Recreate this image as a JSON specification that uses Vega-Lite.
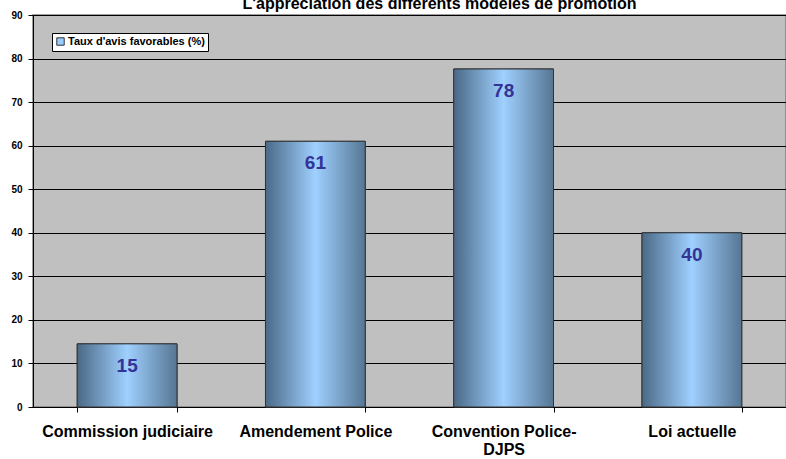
{
  "$schema": "https://vega.github.io/schema/vega-lite/v6.json",
  "autosize": "none",
  "width": 753,
  "height": 392,
  "padding": {"left": 33, "top": 15, "right": 0, "bottom": 52},
  "background": "white",
  "title": {
    "text": "L'appréciation des différents modèles de promotion",
    "font": "Liberation Sans",
    "fontSize": 16,
    "fontWeight": "bold",
    "color": "black",
    "anchor": "middle",
    "baseline": "alphabetic",
    "offset": -15,
    "dx": 30
  },
  "config": {
    "view": {"fill": "#c0c0c0", "stroke": "#808080", "strokeWidth": 1.5},
    "font": "Liberation Sans"
  },
  "data": {
    "values": [
      {"modele": "Commission judiciaire", "taux": 14.5, "label": "15", "serie": "Taux d'avis favorables (%)"},
      {"modele": "Amendement Police", "taux": 61, "label": "61", "serie": "Taux d'avis favorables (%)"},
      {"modele": "Convention Police-DJPS", "taux": 77.6, "label": "78", "serie": "Taux d'avis favorables (%)"},
      {"modele": "Loi actuelle", "taux": 40, "label": "40", "serie": "Taux d'avis favorables (%)"}
    ]
  },
  "encoding": {
    "x": {
      "field": "modele",
      "type": "nominal",
      "sort": null,
      "scale": {"paddingInner": 0.47, "paddingOuter": 0.235},
      "axis": {
        "title": null,
        "labelAngle": 0,
        "labelFont": "Liberation Sans",
        "labelFontSize": 16,
        "labelFontWeight": "bold",
        "labelColor": "black",
        "labelPadding": 11,
        "labelLineHeight": 18,
        "labelExpr": "datum.label == 'Convention Police-DJPS' ? ['Convention Police-', 'DJPS'] : datum.label",
        "tickBand": "extent",
        "tickSize": 5,
        "tickColor": "black",
        "domainColor": "black",
        "labelLimit": 300
      }
    },
    "y": {
      "field": "taux",
      "type": "quantitative",
      "scale": {"domain": [0, 90], "nice": false},
      "axis": {
        "title": null,
        "values": [0, 10, 20, 30, 40, 50, 60, 70, 80, 90],
        "labelFont": "Liberation Sans",
        "labelFontSize": 10,
        "labelFontWeight": "bold",
        "labelColor": "black",
        "labelPadding": 6,
        "tickSize": 5,
        "tickColor": "black",
        "domainColor": "black",
        "gridColor": "black",
        "gridOpacity": 1,
        "grid": true
      }
    }
  },
  "layer": [
    {
      "mark": {"type": "bar", "stroke": "#333333", "strokeWidth": 1},
      "encoding": {
        "color": {
          "field": "serie",
          "type": "nominal",
          "scale": {"range": ["#99ccff"]},
          "legend": {
            "title": null,
            "orient": "none",
            "legendX": 19,
            "legendY": 18,
            "fillColor": "white",
            "strokeColor": "black",
            "padding": 3,
            "symbolType": "square",
            "symbolSize": 55,
            "symbolStrokeColor": "#333333",
            "symbolStrokeWidth": 1,
            "labelFont": "Liberation Sans",
            "labelFontSize": 11,
            "labelFontWeight": "bold",
            "labelColor": "black",
            "labelOffset": 2
          }
        }
      }
    },
    {
      "mark": {
        "type": "bar",
        "stroke": "#333333",
        "strokeWidth": 1,
        "fill": {
          "gradient": "linear",
          "x1": 0, "y1": 0, "x2": 1, "y2": 0,
          "stops": [
            {"offset": 0, "color": "#4a6986"},
            {"offset": 0.5, "color": "#9fd0ff"},
            {"offset": 1, "color": "#567693"}
          ]
        }
      }
    },
    {
      "mark": {
        "type": "text",
        "dy": 22,
        "baseline": "middle",
        "font": "Liberation Sans",
        "fontSize": 19,
        "fontWeight": "bold",
        "color": "#333399"
      },
      "encoding": {"text": {"field": "label"}}
    }
  ]
}
